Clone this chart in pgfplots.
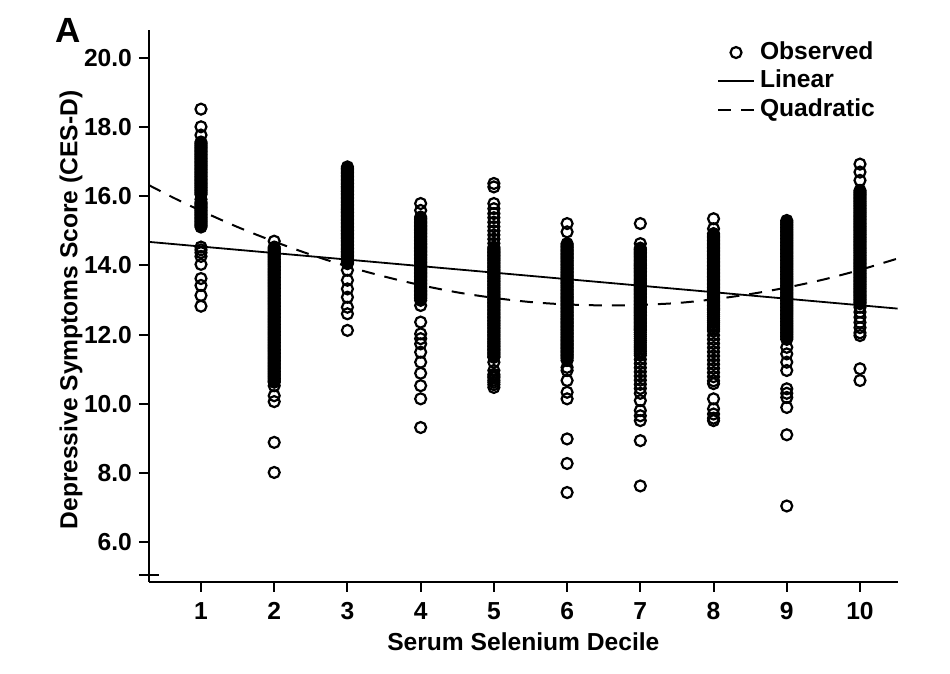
\documentclass[border=0pt]{standalone}
\usepackage{pgfplots}
\pgfplotsset{compat=1.18}
\usepackage{fontspec}
\setmainfont{Liberation Sans}
\newcommand{\lblfont}{\fontsize{12.3}{14}\selectfont\bfseries}
\begin{document}
\begin{tikzpicture}
\useasboundingbox (-74.5pt,-46.15pt) rectangle (400.5pt,290.85pt);
\node[anchor=base west, inner sep=0pt] at (-47pt,269.5pt) {\fontsize{17.5}{20}\selectfont\bfseries A};
\begin{axis}[
  scale only axis, width=374.35pt, height=275.85pt,
  xmin=0.29, xmax=10.515, ymin=4.85, ymax=20.81,
  axis lines*=left,
  axis line style={line width=1pt},
  every tick/.style={line width=1pt, black},
  tick align=outside, major tick length=5pt,
  xtick={1,2,3,4,5,6,7,8,9,10}, ytick={6,8,10,12,14,16,18,20},
  yticklabel style={/pgf/number format/.cd, fixed, fixed zerofill, precision=1},
  xticklabel style={yshift=-2pt},
  /pgf/number format/assume math mode=true,
  ticklabel style={font=\lblfont},
  extra y ticks={5.03}, extra y tick labels={},
  extra y tick style={tick align=center, major tick length=10pt},
  xlabel={Serum Selenium Decile},
  ylabel={Depressive Symptoms Score (CES-D)},
  label style={font=\lblfont},
  xlabel style={at={(axis description cs:0.5,-0.1093)}, anchor=center},
  ylabel style={at={(axis description cs:-0.1042,0.4925)}, anchor=center},
  legend style={at={(axis description cs:0.7587,0.980)}, anchor=north west,
    draw=none, fill=none, inner sep=0pt, outer sep=0pt,
    row sep=2.9pt, column sep=2.5pt, font=\lblfont,
    nodes={inner sep=0pt, text height=9pt, text depth=2.5pt}},
  legend cell align=left,
  legend image code/.code={\draw[mark repeat=2,mark phase=2,#1] plot coordinates {(0pt,0pt) (9pt,0pt) (18pt,0pt)};},
  scatterstyle/.style={only marks, mark=o, mark size=2.75pt, line width=1.1pt, black},
]
% dense interior of each decile column (many overlapping observations)
\addplot[scatterstyle, forget plot] coordinates {
(1,17.53) (1,17.45) (1,17.37) (1,17.29) (1,17.21) (1,17.13) (1,17.05) (1,16.97) (1,16.89) (1,16.81) (1,16.73) (1,16.65) (1,16.57) (1,16.49) (1,16.41) (1,16.33) (1,16.25) (1,16.17) (1,16.09) (1,15.79) (1,15.71) (1,15.63) (1,15.55) (1,15.47) (1,15.39) (1,15.31) (1,15.23) (1,15.15)
(2,14.49) (2,14.41) (2,14.33) (2,14.25) (2,14.17) (2,14.09) (2,14.01) (2,13.93) (2,13.85) (2,13.77) (2,13.69) (2,13.61) (2,13.53) (2,13.45) (2,13.37) (2,13.29) (2,13.21) (2,13.13) (2,13.05) (2,12.97) (2,12.89) (2,12.81) (2,12.73) (2,12.65) (2,12.57) (2,12.49) (2,12.41) (2,12.33) (2,12.25) (2,12.17) (2,12.09) (2,12.01) (2,11.93) (2,11.85) (2,11.77) (2,11.69) (2,11.61) (2,11.53) (2,11.45) (2,11.37) (2,11.29) (2,11.21) (2,11.13) (2,11.05) (2,10.97) (2,10.89) (2,10.81) (2,10.73) (2,10.65)
(3,16.81) (3,16.73) (3,16.65) (3,16.57) (3,16.49) (3,16.41) (3,16.33) (3,16.25) (3,16.17) (3,16.09) (3,16.01) (3,15.93) (3,15.85) (3,15.77) (3,15.69) (3,15.61) (3,15.53) (3,15.45) (3,15.37) (3,15.29) (3,15.21) (3,15.13) (3,15.05) (3,14.97) (3,14.89) (3,14.81) (3,14.73) (3,14.65) (3,14.57) (3,14.49) (3,14.41) (3,14.33) (3,14.25) (3,14.17) (3,14.09)
(4,15.36) (4,15.28) (4,15.20) (4,15.12) (4,15.04) (4,14.96) (4,14.88) (4,14.80) (4,14.72) (4,14.64) (4,14.56) (4,14.48) (4,14.40) (4,14.32) (4,14.24) (4,14.16) (4,14.08) (4,14.00) (4,13.92) (4,13.84) (4,13.76) (4,13.68) (4,13.60) (4,13.52) (4,13.44) (4,13.36) (4,13.28) (4,13.20) (4,13.12) (4,13.04)
(5,14.49) (5,14.41) (5,14.33) (5,14.25) (5,14.17) (5,14.09) (5,14.01) (5,13.93) (5,13.85) (5,13.77) (5,13.69) (5,13.61) (5,13.53) (5,13.45) (5,13.37) (5,13.29) (5,13.21) (5,13.13) (5,13.05) (5,12.97) (5,12.89) (5,12.81) (5,12.73) (5,12.65) (5,12.57) (5,12.49) (5,12.41) (5,12.33) (5,12.25) (5,12.17) (5,12.09) (5,12.01) (5,11.93) (5,11.85) (5,11.77) (5,11.69) (5,11.61) (5,11.53) (5,11.45) (5,11.37) (5,10.80) (5,10.68) (5,10.55)
(6,14.59) (6,14.51) (6,14.43) (6,14.35) (6,14.27) (6,14.19) (6,14.11) (6,14.03) (6,13.95) (6,13.87) (6,13.79) (6,13.71) (6,13.63) (6,13.55) (6,13.47) (6,13.39) (6,13.31) (6,13.23) (6,13.15) (6,13.07) (6,12.99) (6,12.91) (6,12.83) (6,12.75) (6,12.67) (6,12.59) (6,12.51) (6,12.43) (6,12.35) (6,12.27) (6,12.19) (6,12.11) (6,12.03) (6,11.95) (6,11.87) (6,11.79) (6,11.71) (6,11.63) (6,11.55) (6,11.47) (6,11.39) (6,11.31)
(7,14.46) (7,14.38) (7,14.30) (7,14.22) (7,14.14) (7,14.06) (7,13.99) (7,13.91) (7,13.83) (7,13.75) (7,13.67) (7,13.59) (7,13.51) (7,13.43) (7,13.35) (7,13.27) (7,13.19) (7,13.11) (7,13.03) (7,12.95) (7,12.87) (7,12.79) (7,12.71) (7,12.63) (7,12.55) (7,12.47) (7,12.39) (7,12.31) (7,12.23) (7,12.15) (7,12.06) (7,11.94) (7,11.82) (7,11.70) (7,11.58) (7,11.46)
(8,14.88) (8,14.80) (8,14.72) (8,14.64) (8,14.56) (8,14.48) (8,14.40) (8,14.32) (8,14.24) (8,14.16) (8,14.08) (8,14.00) (8,13.92) (8,13.84) (8,13.76) (8,13.68) (8,13.60) (8,13.52) (8,13.44) (8,13.36) (8,13.28) (8,13.20) (8,13.12) (8,13.04) (8,12.96) (8,12.88) (8,12.80) (8,12.73) (8,12.64) (8,12.52) (8,12.40) (8,12.28) (8,12.16)
(9,15.26) (9,15.18) (9,15.10) (9,15.02) (9,14.94) (9,14.86) (9,14.78) (9,14.70) (9,14.62) (9,14.54) (9,14.46) (9,14.38) (9,14.30) (9,14.22) (9,14.14) (9,14.06) (9,13.98) (9,13.90) (9,13.82) (9,13.74) (9,13.66) (9,13.58) (9,13.50) (9,13.42) (9,13.34) (9,13.26) (9,13.18) (9,13.10) (9,13.02) (9,12.94) (9,12.86) (9,12.78) (9,12.70) (9,12.62) (9,12.54) (9,12.46) (9,12.38) (9,12.30) (9,12.22) (9,12.14) (9,12.06) (9,11.98) (9,11.90)
(10,16.13) (10,16.05) (10,15.97) (10,15.89) (10,15.81) (10,15.73) (10,15.65) (10,15.57) (10,15.49) (10,15.41) (10,15.33) (10,15.25) (10,15.17) (10,15.09) (10,15.01) (10,14.93) (10,14.85) (10,14.77) (10,14.69) (10,14.61) (10,14.53) (10,14.45) (10,14.37) (10,14.29) (10,14.21) (10,14.13) (10,14.05) (10,13.97) (10,13.89) (10,13.81) (10,13.73) (10,13.65) (10,13.57) (10,13.49) (10,13.41) (10,13.33) (10,13.25) (10,13.17) (10,13.09) (10,13.01) (10,12.93)
};
\addplot[scatterstyle] coordinates {
(1,18.52) (1,18.01) (1,17.77) (1,17.57) (1,17.49) (1,17.41) (1,17.33) (1,17.25) (1,17.17) (1,17.09) (1,17.01) (1,16.93) (1,16.85) (1,16.77) (1,16.69) (1,16.61) (1,16.53) (1,16.45) (1,16.37) (1,16.29) (1,16.21) (1,16.13) (1,16.05) (1,15.91) (1,15.83) (1,15.75) (1,15.67) (1,15.59) (1,15.51) (1,15.43) (1,15.35) (1,15.27) (1,15.19) (1,15.11) (1,14.53) (1,14.45) (1,14.37) (1,14.26) (1,14.03) (1,13.62) (1,13.42) (1,13.13) (1,12.82)
(2,14.70) (2,14.53) (2,14.45) (2,14.37) (2,14.29) (2,14.21) (2,14.13) (2,14.05) (2,13.97) (2,13.89) (2,13.81) (2,13.73) (2,13.65) (2,13.57) (2,13.49) (2,13.41) (2,13.33) (2,13.25) (2,13.17) (2,13.09) (2,13.01) (2,12.93) (2,12.85) (2,12.77) (2,12.69) (2,12.61) (2,12.53) (2,12.45) (2,12.37) (2,12.29) (2,12.21) (2,12.13) (2,12.05) (2,11.97) (2,11.89) (2,11.81) (2,11.73) (2,11.65) (2,11.57) (2,11.49) (2,11.41) (2,11.33) (2,11.25) (2,11.17) (2,11.09) (2,11.01) (2,10.93) (2,10.85) (2,10.77) (2,10.69) (2,10.62) (2,10.52) (2,10.23) (2,10.06) (2,8.88) (2,8.01)
(3,16.85) (3,16.77) (3,16.69) (3,16.61) (3,16.53) (3,16.45) (3,16.37) (3,16.29) (3,16.21) (3,16.13) (3,16.05) (3,15.97) (3,15.89) (3,15.81) (3,15.73) (3,15.65) (3,15.57) (3,15.49) (3,15.41) (3,15.33) (3,15.25) (3,15.17) (3,15.09) (3,15.01) (3,14.93) (3,14.85) (3,14.77) (3,14.69) (3,14.61) (3,14.53) (3,14.45) (3,14.37) (3,14.29) (3,14.21) (3,14.13) (3,14.05) (3,13.86) (3,13.57) (3,13.32) (3,13.08) (3,12.79) (3,12.60) (3,12.12)
(4,15.79) (4,15.59) (4,15.40) (4,15.32) (4,15.24) (4,15.16) (4,15.08) (4,15.00) (4,14.92) (4,14.84) (4,14.76) (4,14.68) (4,14.60) (4,14.52) (4,14.44) (4,14.36) (4,14.28) (4,14.20) (4,14.12) (4,14.04) (4,13.96) (4,13.88) (4,13.80) (4,13.72) (4,13.64) (4,13.56) (4,13.48) (4,13.40) (4,13.32) (4,13.24) (4,13.16) (4,13.08) (4,12.99) (4,12.84) (4,12.36) (4,12.02) (4,11.88) (4,11.73) (4,11.49) (4,11.20) (4,10.88) (4,10.52) (4,10.14) (4,9.31)
(5,16.37) (5,16.27) (5,15.79) (5,15.64) (5,15.50) (5,15.38) (5,15.25) (5,15.12) (5,15.00) (5,14.88) (5,14.76) (5,14.64) (5,14.53) (5,14.45) (5,14.37) (5,14.29) (5,14.21) (5,14.13) (5,14.05) (5,13.97) (5,13.89) (5,13.81) (5,13.73) (5,13.65) (5,13.57) (5,13.49) (5,13.41) (5,13.33) (5,13.25) (5,13.17) (5,13.09) (5,13.01) (5,12.93) (5,12.85) (5,12.77) (5,12.69) (5,12.61) (5,12.53) (5,12.45) (5,12.37) (5,12.29) (5,12.21) (5,12.13) (5,12.05) (5,11.97) (5,11.89) (5,11.81) (5,11.73) (5,11.65) (5,11.57) (5,11.49) (5,11.41) (5,11.34) (5,11.20) (5,10.96) (5,10.85) (5,10.75) (5,10.62) (5,10.47)
(6,15.21) (6,14.97) (6,14.63) (6,14.55) (6,14.47) (6,14.39) (6,14.31) (6,14.23) (6,14.15) (6,14.07) (6,13.99) (6,13.91) (6,13.83) (6,13.75) (6,13.67) (6,13.59) (6,13.51) (6,13.43) (6,13.35) (6,13.27) (6,13.19) (6,13.11) (6,13.03) (6,12.95) (6,12.87) (6,12.79) (6,12.71) (6,12.63) (6,12.55) (6,12.47) (6,12.39) (6,12.31) (6,12.23) (6,12.15) (6,12.07) (6,11.99) (6,11.91) (6,11.83) (6,11.75) (6,11.67) (6,11.59) (6,11.51) (6,11.43) (6,11.35) (6,11.25) (6,11.05) (6,10.96) (6,10.67) (6,10.33) (6,10.14) (6,8.98) (6,8.27) (6,7.43)
(7,15.21) (7,14.63) (7,14.50) (7,14.42) (7,14.34) (7,14.26) (7,14.18) (7,14.10) (7,14.02) (7,13.95) (7,13.87) (7,13.79) (7,13.71) (7,13.63) (7,13.55) (7,13.47) (7,13.39) (7,13.31) (7,13.23) (7,13.15) (7,13.07) (7,12.99) (7,12.91) (7,12.83) (7,12.75) (7,12.67) (7,12.59) (7,12.51) (7,12.43) (7,12.35) (7,12.27) (7,12.19) (7,12.12) (7,12.00) (7,11.88) (7,11.76) (7,11.64) (7,11.52) (7,11.40) (7,11.28) (7,11.16) (7,11.04) (7,10.92) (7,10.80) (7,10.68) (7,10.56) (7,10.44) (7,10.30) (7,10.09) (7,9.80) (7,9.65) (7,9.51) (7,8.93) (7,7.62)
(8,15.35) (8,15.06) (8,14.92) (8,14.84) (8,14.76) (8,14.68) (8,14.60) (8,14.52) (8,14.44) (8,14.36) (8,14.28) (8,14.20) (8,14.12) (8,14.04) (8,13.96) (8,13.88) (8,13.80) (8,13.72) (8,13.64) (8,13.56) (8,13.48) (8,13.40) (8,13.32) (8,13.24) (8,13.16) (8,13.08) (8,13.00) (8,12.92) (8,12.84) (8,12.76) (8,12.70) (8,12.58) (8,12.46) (8,12.34) (8,12.22) (8,12.10) (8,11.98) (8,11.86) (8,11.74) (8,11.62) (8,11.50) (8,11.38) (8,11.26) (8,11.14) (8,11.02) (8,10.90) (8,10.78) (8,10.66) (8,10.58) (8,10.14) (8,9.85) (8,9.70) (8,9.58) (8,9.51)
(9,15.30) (9,15.22) (9,15.14) (9,15.06) (9,14.98) (9,14.90) (9,14.82) (9,14.74) (9,14.66) (9,14.58) (9,14.50) (9,14.42) (9,14.34) (9,14.26) (9,14.18) (9,14.10) (9,14.02) (9,13.94) (9,13.86) (9,13.78) (9,13.70) (9,13.62) (9,13.54) (9,13.46) (9,13.38) (9,13.30) (9,13.22) (9,13.14) (9,13.06) (9,12.98) (9,12.90) (9,12.82) (9,12.74) (9,12.66) (9,12.58) (9,12.50) (9,12.42) (9,12.34) (9,12.26) (9,12.18) (9,12.10) (9,12.02) (9,11.94) (9,11.86) (9,11.63) (9,11.44) (9,11.20) (9,10.96) (9,10.43) (9,10.30) (9,10.18) (9,9.89) (9,9.10) (9,7.04)
(10,16.93) (10,16.70) (10,16.46) (10,16.17) (10,16.09) (10,16.01) (10,15.93) (10,15.85) (10,15.77) (10,15.69) (10,15.61) (10,15.53) (10,15.45) (10,15.37) (10,15.29) (10,15.21) (10,15.13) (10,15.05) (10,14.97) (10,14.89) (10,14.81) (10,14.73) (10,14.65) (10,14.57) (10,14.49) (10,14.41) (10,14.33) (10,14.25) (10,14.17) (10,14.09) (10,14.01) (10,13.93) (10,13.85) (10,13.77) (10,13.69) (10,13.61) (10,13.53) (10,13.45) (10,13.37) (10,13.29) (10,13.21) (10,13.13) (10,13.05) (10,12.97) (10,12.89) (10,12.79) (10,12.65) (10,12.50) (10,12.35) (10,12.20) (10,12.05) (10,11.97) (10,11.01) (10,10.67)
};
\addlegendentry{Observed}
\addplot[black, line width=0.9pt, no marks] coordinates {(0.29,14.68) (10.515,12.75)};
\addlegendentry{Linear}
\addplot[black, line width=1pt, dash pattern=on 6.5pt off 5pt, smooth, no marks] coordinates {
(0.29,16.32) (0.65,15.93) (1,15.58) (1.5,15.11) (2,14.69) (2.5,14.31) (3,13.97) (3.5,13.68) (4,13.43) (4.5,13.22) (5,13.06) (5.5,12.94) (6,12.87) (6.58,12.84) (7,12.86) (7.5,12.91) (8,13.02) (8.5,13.17) (9,13.36) (9.5,13.59) (10,13.87) (10.515,14.20)
};
\addlegendentry{Quadratic}
\end{axis}
\end{tikzpicture}
\end{document}
